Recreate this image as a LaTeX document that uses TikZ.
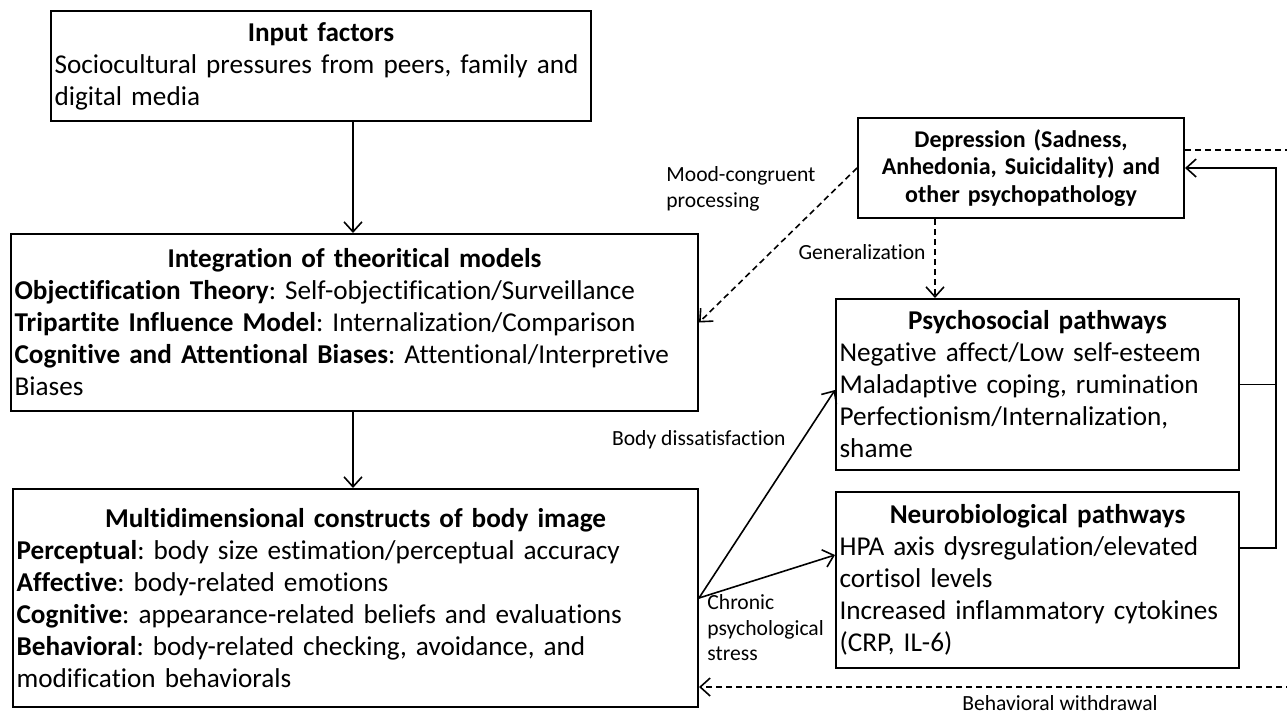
\documentclass[tikz,border=0pt]{standalone}
\usepackage{fontspec}
\setmainfont{Carlito}[Ligatures=NoCommon, WordSpace={1,0,0}]
\usepackage{tikz}
\usetikzlibrary{arrows.meta}
\frenchspacing

\tikzset{
  box/.style={draw, line width=1pt, anchor=north west, inner xsep=1.8pt, inner ysep=2pt, align=left, font=\fontsize{13.6}{16}\selectfont},
  lbl/.style={inner sep=0pt, align=left, font=\fontsize{10.8}{12.8}\selectfont},
  arr/.style={line width=0.8pt, -{Straight Barb[length=5pt,width=9pt]}},
  dasharr/.style={arr, dash pattern=on 3pt off 2pt}
}

\begin{document}
\begin{tikzpicture}[x=0.5pt, y=-0.5pt]
\useasboundingbox (0,0) rectangle (1287,713);

\node[box, minimum width=270pt, minimum height=55pt, text width=266.4pt] (input) at (50,10) {{\centering\bfseries Input factors\par}Sociocultural pressures from peers, family and\\digital media};
\node[box, minimum width=343.5pt, minimum height=88.5pt, text width=339.9pt] (theory) at (10,233) {{\centering\bfseries Integration of theoritical models\par}\textbf{Objectification Theory}: Self-objectification/Surveillance\\\textbf{Tripartite Influence Model}: Internalization/Comparison\\\textbf{Cognitive and Attentional Biases}: Attentional/Interpretive\\Biases};
\node[box, minimum width=342.5pt, minimum height=109pt, text width=338.9pt] (constructs) at (12,488) {{\centering\bfseries Multidimensional constructs of body image\par}\textbf{Perceptual}: body size estimation/perceptual accuracy\\\textbf{Affective}: body-related emotions\\\textbf{Cognitive}: appearance-related beliefs and evaluations\\\textbf{Behavioral}: body-related checking, avoidance, and\\modification behaviorals};
\node[box, minimum width=163pt, minimum height=50pt, text width=159pt, align=center, font=\fontsize{12}{13.6}\selectfont\bfseries] (depress) at (857,117) {Depression (Sadness,\\Anhedonia, Suicidality) and\\other psychopathology};
\node[box, minimum width=201.5pt, minimum height=85.5pt, text width=197.9pt] (psych) at (835,298) {{\centering\bfseries Psychosocial pathways\par}Negative affect/Low self-esteem\\Maladaptive coping, rumination\\Perfectionism/Internalization,\\shame};
\node[box, minimum width=201.5pt, minimum height=88pt, text width=197.9pt] (neuro) at (835,491) {{\centering\bfseries Neurobiological pathways\par}HPA axis dysregulation/elevated\\cortisol levels\\Increased inflammatory cytokines\\(CRP, IL-6)};

\coordinate (midx) at (353,0);
\coordinate (genx) at (935,0);
\coordinate (dissy) at (0,390);
\coordinate (stressy) at (0,555);
\coordinate (neuroy) at (0,548);
\coordinate (fbx) at (1276,0);
\coordinate (topy) at (0,150);
\coordinate (wdy) at (0,687);
\coordinate (farx) at (1320,0);

\draw[arr] (input.south -| midx) -- (theory.north -| midx);
\draw[arr] (theory.south -| midx) -- (constructs.north -| midx);
\draw[dasharr] (depress.west) -- (theory.east);
\draw[dasharr] (depress.south -| genx) -- (psych.north -| genx);
\draw[arr] (constructs.east) -- (psych.west |- dissy);
\draw[arr] (constructs.east) -- (neuro.west |- stressy);
\draw[line width=0.8pt] (psych.east) -- (psych.east -| fbx);
\draw[arr] (neuro.east |- neuroy) -- (fbx |- neuroy) -- (fbx |- depress.east) -- (depress.east);
\begin{scope}
\clip (0,0) rectangle (1287,713);
\draw[dasharr] (depress.east |- topy) -- (farx |- topy) -- (farx |- wdy) -- (constructs.east |- wdy);
\end{scope}

\node[lbl, anchor=north west] (moodlbl) at (666,166) {Mood-congruent\\processing};
\node[lbl, anchor=east] (genlbl) at (926,252) {Generalization};
\node[lbl, anchor=east] (dislbl) at (786,440) {Body dissatisfaction};
\node[lbl, anchor=north west] (stresslbl) at (707,594) {Chronic\\psychological\\stress};
\node[lbl] (wdlbl) at (1060,703) {Behavioral withdrawal};
\end{tikzpicture}
\end{document}
